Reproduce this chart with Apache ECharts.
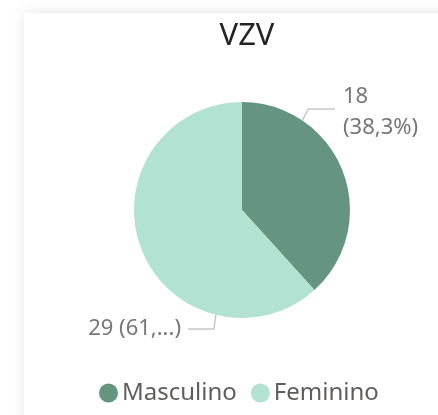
<!DOCTYPE html>
<html><head><meta charset="utf-8">
<script src="https://cdn.jsdelivr.net/npm/echarts@6/dist/echarts.min.js"></script>
<style>html,body{margin:0;padding:0;background:#fff}#c{width:438px;height:415px}</style>
</head><body><div id="c"></div>
<script>
const title = 'VZV';
const categories = ['Masculino', 'Feminino'];
const values = [18, 29];
const colors = ['#659580', '#B1E2D2'];

const total = values.reduce((a, b) => a + b, 0);
function fmt(p) {
  const pct = (p.value / total * 100).toFixed(1).replace('.', ',');
  if (p.dataIndex === 0) return p.value + '\n(' + pct + '%)';
  return p.value + ' (' + pct.slice(0, 3) + '...)';
}
const cx = 242, cy = 210, r = 108;
function pt(angDeg, rr) {
  const a = angDeg * Math.PI / 180;
  return [cx + rr * Math.sin(a), cy - rr * Math.cos(a)];
}
const chart = echarts.init(document.getElementById('c'));
chart.setOption({
  animation: false,
  graphic: [{
    type: 'rect', shape: { x: 24, y: 13, width: 440, height: 420 },
    style: { fill: '#fff', shadowBlur: 14, shadowColor: 'rgba(0,0,0,0.10)' }, z: -10
  }],
  title: {
    text: title, left: cx, top: 16, textAlign: 'center',
    textStyle: { fontFamily: 'Noto Sans', fontSize: 31, fontWeight: 'normal', color: '#252423' }
  },
  legend: {
    data: categories, left: 94, top: 376, icon: 'circle', itemWidth: 19, itemHeight: 19,
    itemGap: 14,
    textStyle: { fontFamily: 'Noto Sans', fontSize: 24, color: '#605E5C', padding: [0, 0, 0, -1] }
  },
  series: [{
    type: 'pie', center: [cx, cy], radius: r, startAngle: 90, clockwise: true,
    data: categories.map((n, i) => ({ name: n, value: values[i], itemStyle: { color: colors[i] } })),
    label: {
      show: true, formatter: fmt, fontFamily: 'Noto Sans', fontSize: 22, color: '#777', lineHeight: 31,
      overflow: 'none', width: 200
    },
    labelLine: { show: true, lineStyle: { color: '#c8c8c8', width: 1.5 } },
    labelLayout: function (p) {
      if (p.dataIndex === 0) {
        const s = pt(34, r);
        return { x: 343, y: 112, align: 'left', verticalAlign: 'middle',
          labelLinePoints: [s, [s[0] + 6, 109], [335, 109]] };
      } else {
        const s = pt(194, r);
        return { x: 181, y: 329, align: 'right', verticalAlign: 'middle',
          labelLinePoints: [s, [s[0] - 2, 329], [188, 329]] };
      }
    }
  }]
});
</script></body></html>
